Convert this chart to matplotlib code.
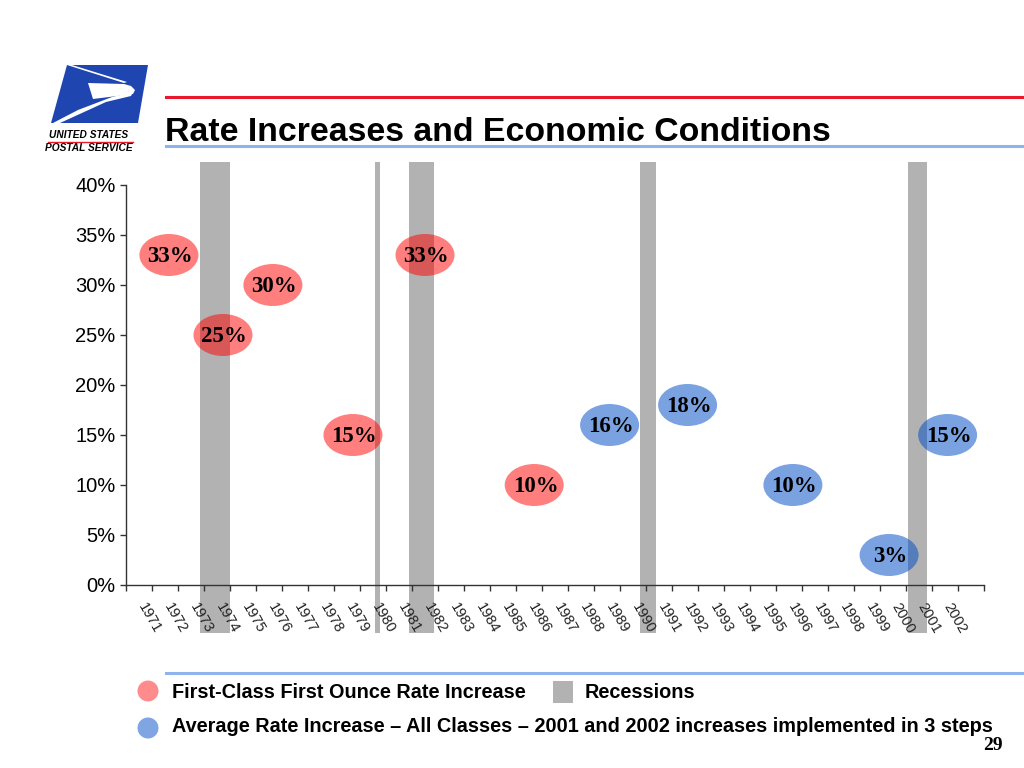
import matplotlib
matplotlib.use("Agg")
import matplotlib.pyplot as plt
from matplotlib.patches import Ellipse, Polygon, Rectangle
from matplotlib.lines import Line2D
from matplotlib.transforms import ScaledTranslation

plt.rcParams['font.family'] = ['Liberation Sans', 'DejaVu Sans']

# data
years = list(range(1971, 2003))

first_class_x = [1972.15, 1974.23, 1976.15, 1979.23, 1982.0, 1986.2]
first_class_y = [33, 25, 30, 15, 33, 10]

all_classes_x = [1989.1, 1992.1, 1996.15, 1999.85, 2002.1]
all_classes_y = [16, 18, 10, 3, 15]

rec_start = [1973.35, 1980.08, 1981.4, 1990.27, 2000.56]
rec_end = [1974.5, 1980.25, 1982.35, 1990.9, 2001.3]

red = (1.0, 0.0, 0.0)
blue = (0.0, 0.30, 0.78)
grey = '#b2b2b2'
logo_blue = '#1f45b0'

W, H = 1024, 768
fig = plt.figure(figsize=(W / 100, H / 100), dpi=100)


def px(x, y):
    return (x / W, 1 - y / H)


ax = fig.add_axes([126 / W, 1 - 585 / H, (984 - 126) / W, (585 - 185) / H])
ax.set_xlim(1970.5, 2003.5)
ax.set_ylim(0, 40)

# recession bars reach past the plot area
for s, e in zip(rec_start, rec_end):
    ax.axvspan(s, e, ymin=-0.12, ymax=1.058, color=grey, lw=0,
               clip_on=False, zorder=1)

for x, y in zip(first_class_x, first_class_y):
    ax.add_patch(Ellipse((x, y), 2.27, 4.2, facecolor=red, alpha=0.5,
                         lw=0, zorder=2))
    ax.text(x + 0.05, y - 0.2, f"{y}%", ha='center', va='center',
            fontsize=16.5, fontweight='bold', family='Liberation Serif',
            zorder=3)

for x, y in zip(all_classes_x, all_classes_y):
    ax.add_patch(Ellipse((x, y), 2.27, 4.2, facecolor=blue, alpha=0.52,
                         lw=0, zorder=2))
    ax.text(x + 0.05, y - 0.2, f"{y}%", ha='center', va='center',
            fontsize=16.5, fontweight='bold', family='Liberation Serif',
            zorder=3)

for side in ['top', 'right']:
    ax.spines[side].set_visible(False)
for side in ['left', 'bottom']:
    ax.spines[side].set_color('#333333')
    ax.spines[side].set_linewidth(1.0)
    ax.spines[side].set_zorder(4)

ax.set_yticks(range(0, 41, 5))
ax.set_yticklabels([f"{v}%" for v in range(0, 41, 5)], fontsize=14.5)
ax.tick_params(axis='y', direction='out', length=4.5, width=1,
               color='#333333', pad=3)

ax.set_xticks(years)
ax.set_xticklabels([str(y) for y in years], fontsize=10.5, rotation=-60,
                   ha='left', va='top', rotation_mode='anchor')
ax.set_xticks([1970.5 + k for k in range(34)], minor=True)
ax.tick_params(axis='x', which='major', length=0, pad=11)
ax.tick_params(axis='x', which='minor', direction='out', length=4,
               width=1, color='#333333')
for lab in ax.get_xticklabels():
    lab.set_transform(lab.get_transform() +
                      ScaledTranslation(0.08, 0, fig.dpi_scale_trans))
    lab.set_color('#222222')

# title and rules
fig.add_artist(Line2D([166 / W, 1], [1 - 97 / H] * 2, color='#e8192c', lw=2.2))
fig.add_artist(Line2D([166 / W, 1], [1 - 146 / H] * 2, color='#8fb3ec', lw=2.2))
fig.add_artist(Line2D([166 / W, 1], [1 - 673 / H] * 2, color='#8fb3ec', lw=2.2))
fig.text(*px(165, 141), "Rate Increases and Economic Conditions",
         fontsize=24.4, fontweight='bold', ha='left', va='baseline')

# logo
fig.add_artist(Polygon([px(67, 65), px(148, 65), px(138, 123), px(51, 123)],
                       closed=True, facecolor=logo_blue, lw=0))
fig.add_artist(Polygon([px(67, 65), px(72, 65), px(127, 82), px(124, 83)],
                       closed=True, facecolor='white', lw=0))
fig.add_artist(Polygon([px(88, 83), px(124, 84), px(131, 86), px(135, 90),
                        px(133, 94), px(93, 99)],
                       closed=True, facecolor='white', lw=0))
fig.add_artist(Polygon([px(53, 123), px(78, 110), px(112, 97), px(133, 92),
                        px(131, 96), px(106, 102), px(60, 123)],
                       closed=True, facecolor='white', lw=0))
fig.text(*px(89, 135), "UNITED STATES", fontsize=7.3, fontweight='bold',
         style='italic', ha='center', va='center')
fig.add_artist(Line2D([48 / W, 133 / W], [1 - 141.5 / H] * 2,
                      color='#e8192c', lw=1))
fig.text(*px(89, 148), "POSTAL SERVICE", fontsize=7.3, fontweight='bold',
         style='italic', ha='center', va='center')

# legend
fig.add_artist(Ellipse(px(148, 691), 21 / W, 21 / H, facecolor=red,
                       alpha=0.45, lw=0))
fig.add_artist(Ellipse(px(148, 728), 21 / W, 21 / H, facecolor=blue,
                       alpha=0.5, lw=0))
fig.text(*px(172, 692), "First-Class First Ounce Rate Increase",
         fontsize=14.3, fontweight='bold', ha='left', va='center')
fig.add_artist(Rectangle(px(553, 703), 20 / W, 22 / H, facecolor=grey, lw=0))
fig.text(*px(585, 693), "Recessions", fontsize=14.3, fontweight='bold',
         ha='left', va='center')
fig.text(*px(172, 727),
         "Average Rate Increase \u2013 All Classes \u2013 2001 and 2002 "
         "increases implemented in 3 steps",
         fontsize=14.3, fontweight='bold', ha='left', va='center')
fig.text(*px(1003, 745), "29", fontsize=14, fontweight='bold',
         family='Liberation Serif', ha='right', va='center')

fig.savefig("out.png", dpi=100)
